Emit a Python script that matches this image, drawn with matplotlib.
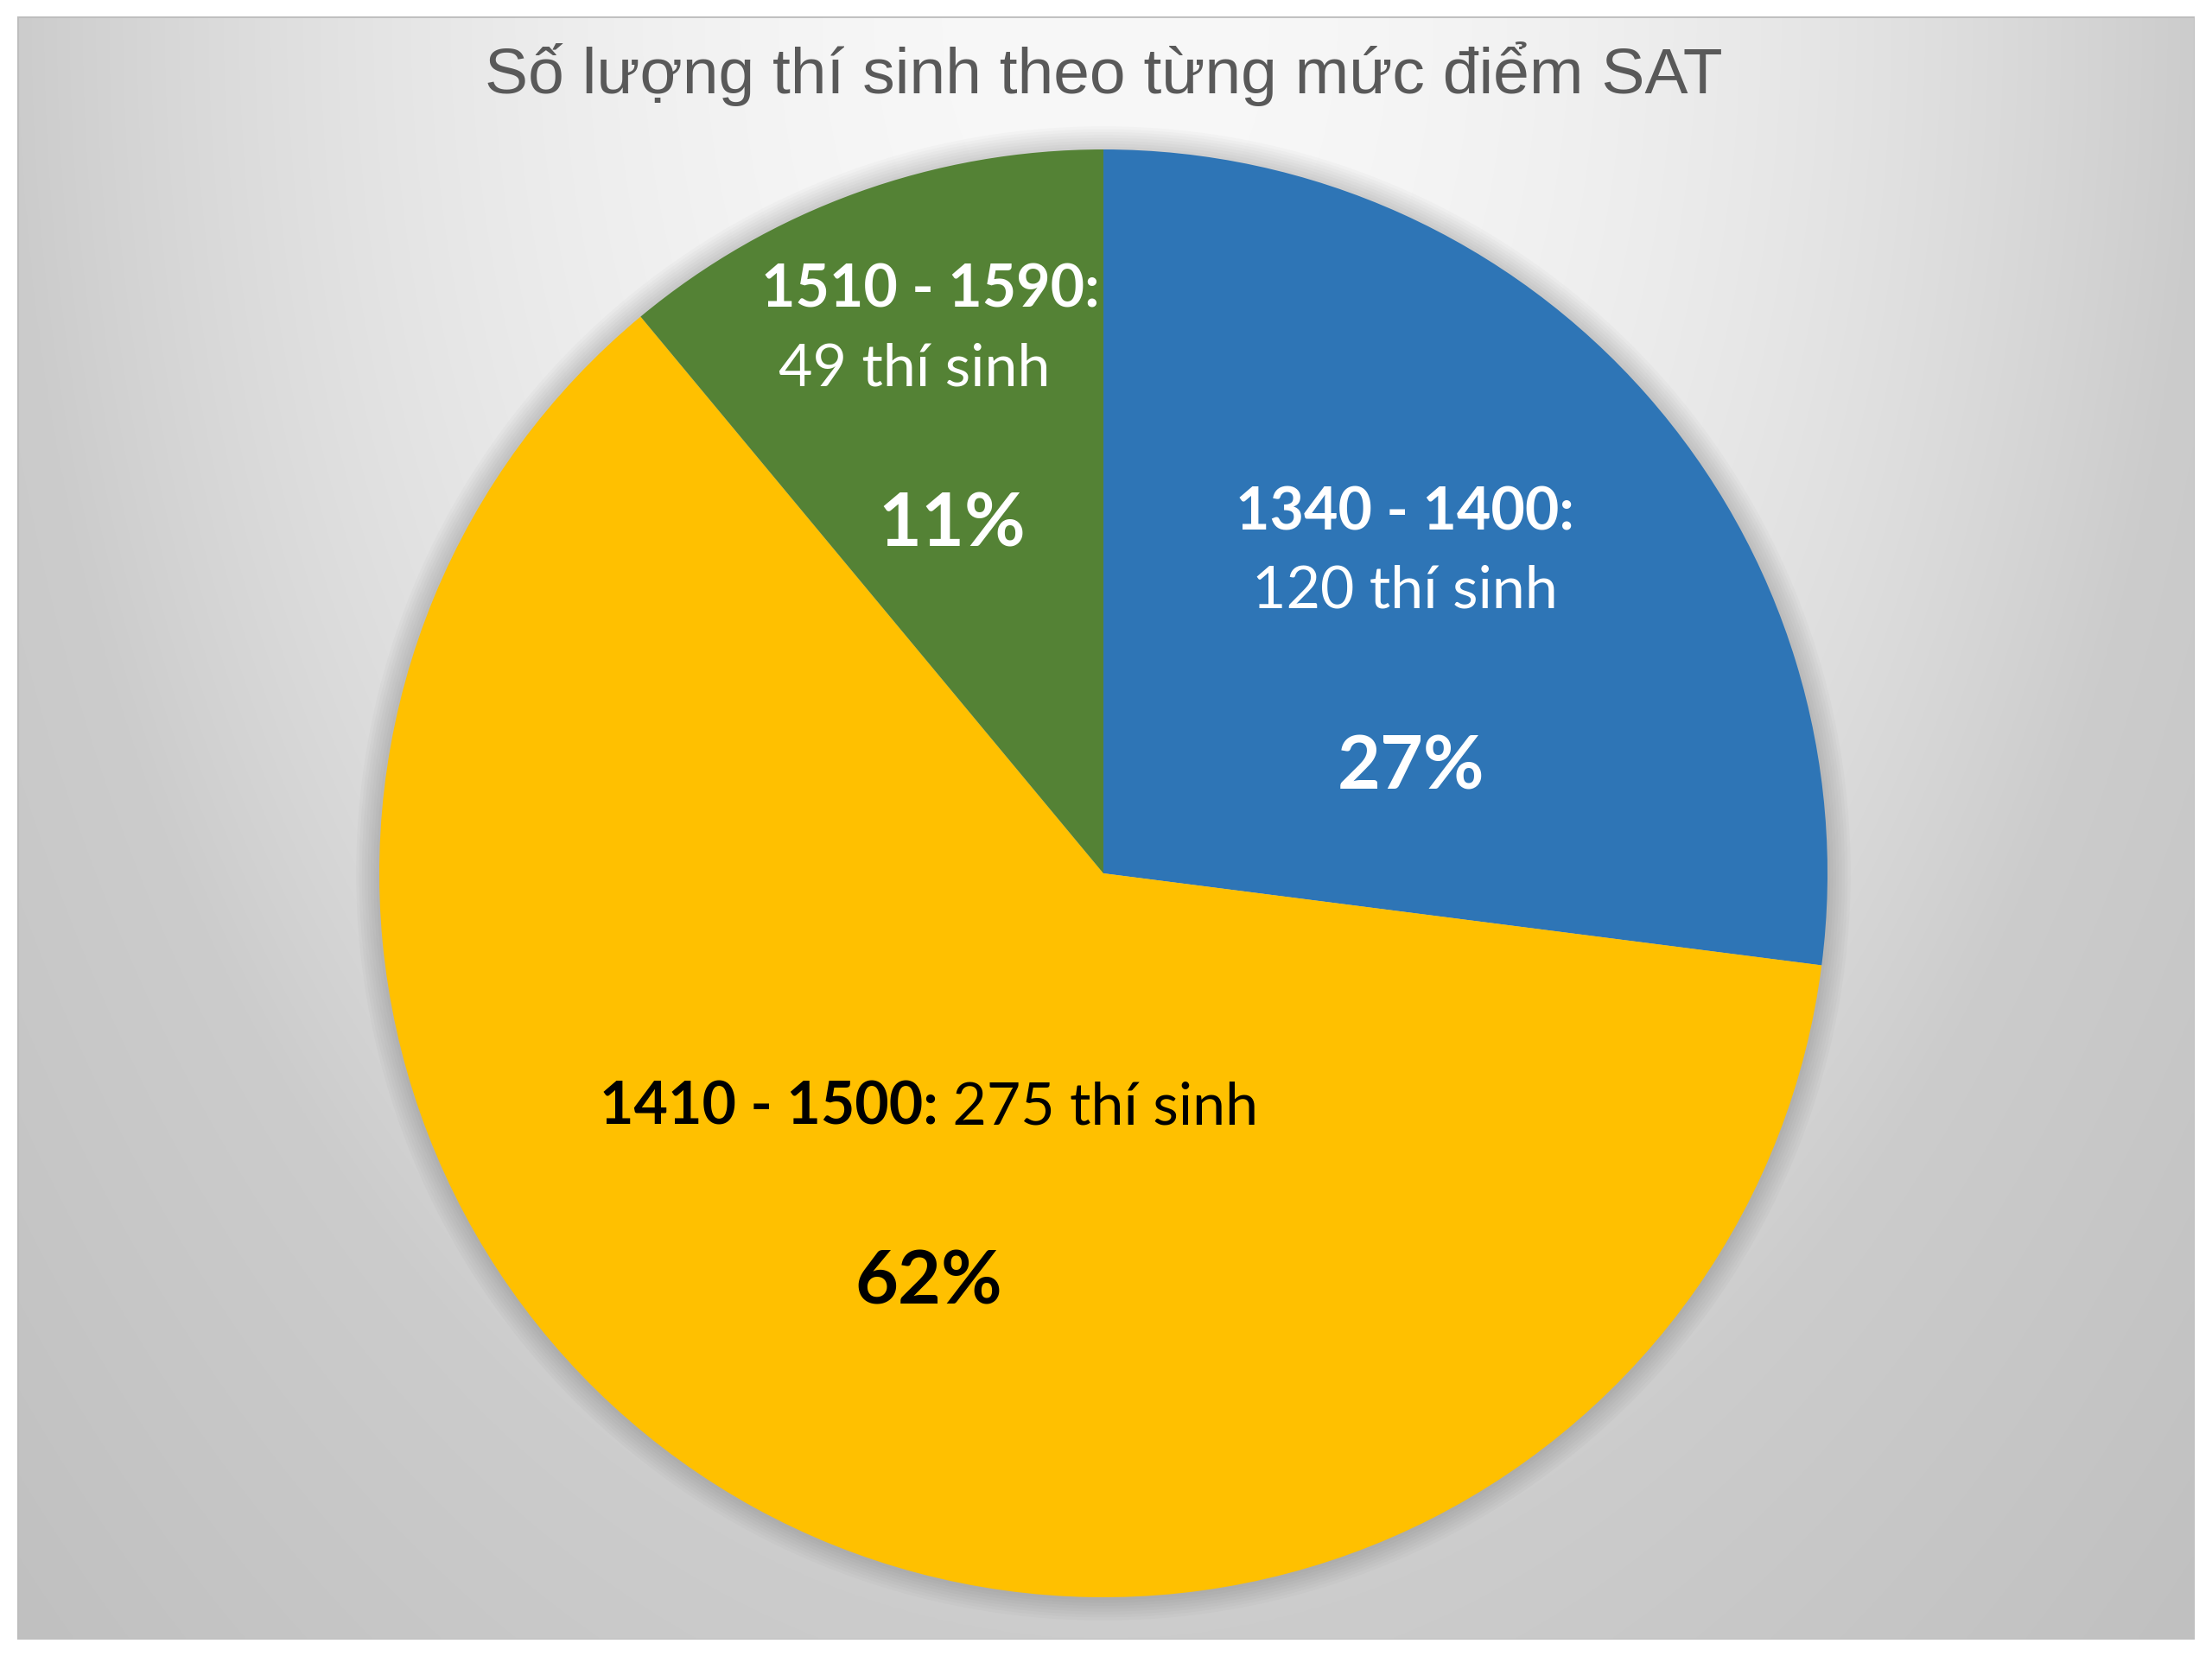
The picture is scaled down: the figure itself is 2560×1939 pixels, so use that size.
import numpy as np
import matplotlib
matplotlib.use("Agg")
import matplotlib.pyplot as plt
from matplotlib.patches import Rectangle, Circle

# ---- data ----
title = "Số lượng thí sinh theo từng mức điểm SAT"
ranges = ["1340 - 1400:", "1410 - 1500:", "1510 - 1590:"]
counts = [120, 275, 49]
count_labels = ["120 thí sinh", "275 thí sinh", "49 thí sinh"]
colors = ["#2E75B6", "#FFC000", "#548235"]
text_colors = ["white", "black", "white"]

W, H = 2560, 1940
fig = plt.figure(figsize=(W / 100, H / 100), dpi=100)
fig.patch.set_facecolor("white")

# ---- background chart area with radial gradient ----
L, T, R, B = 20, 20, 2540, 1899
ax_bg = fig.add_axes([L / W, 1 - B / H, (R - L) / W, (B - T) / H])
ny, nx = 400, 540
yy, xx = np.mgrid[0:ny, 0:nx]
dx = (xx / (nx - 1) - 0.5) / 0.5
dy = yy / (ny - 1)
r = np.sqrt(dx ** 2 + dy ** 2)
v = np.where(r <= 1, 248 - 44 * r ** 2, 204 - 29 * (r - 1)) / 255.0
img = np.dstack([v, v, v])
ax_bg.imshow(img, extent=[0, 1, 0, 1], origin="upper", aspect="auto", interpolation="bilinear")
ax_bg.set_xlim(0, 1)
ax_bg.set_ylim(0, 1)
ax_bg.axis("off")
ax_bg.add_patch(Rectangle((0, 0), 1, 1, fill=False, edgecolor="#bdbdbd", lw=2, transform=ax_bg.transAxes))

# ---- title ----
fig.text(1277 / W, 1 - 108 / H, title, ha="center", va="baseline",
         fontsize=54, color="#595959", family=["Liberation Sans", "DejaVu Sans"])

# ---- pie ----
cx, cy, rad = 1277, 1012, 838
ax = fig.add_axes([(cx - rad) / W, 1 - (cy + rad) / H, 2 * rad / W, 2 * rad / H])
ax.set_clip_on(False)
# soft shadow behind the pie
for k in range(8):
    ax.add_patch(Circle((0, 0), 1.0 + 0.004 * (k + 1), facecolor="black", edgecolor="none",
                        alpha=0.018, zorder=0, clip_on=False))
wedges, _ = ax.pie(counts, colors=colors, startangle=90, counterclock=False, radius=1,
                   wedgeprops=dict(linewidth=0, zorder=2))
ax.set_xlim(-1, 1)
ax.set_ylim(-1, 1)
ax.set_aspect("equal")
ax.axis("off")

total = sum(counts)
pcts = [f"{round(c / total * 100):d}%" for c in counts]

lab_font = ["Lato", "DejaVu Sans"]
fs_lab = 49
fs_pct = 62

# blue
ax.text(0.416, 0.475, ranges[0], ha="center", va="baseline", fontsize=fs_lab,
        fontweight="bold", color=text_colors[0], family=lab_font, zorder=5)
ax.text(0.416, 0.368, count_labels[0], ha="center", va="baseline", fontsize=fs_lab,
        color=text_colors[0], family=lab_font, zorder=5)
ax.text(0.425, 0.118, pcts[0], ha="center", va="baseline", fontsize=fs_pct,
        fontweight="bold", color=text_colors[0], family=lab_font, zorder=5)

# green
ax.text(-0.239, 0.783, ranges[2], ha="center", va="baseline", fontsize=fs_lab,
        fontweight="bold", color=text_colors[2], family=lab_font, zorder=5)
ax.text(-0.261, 0.675, count_labels[2], ha="center", va="baseline", fontsize=fs_lab,
        color=text_colors[2], family=lab_font, zorder=5)
ax.text(-0.209, 0.453, pcts[2], ha="center", va="baseline", fontsize=fs_pct,
        fontweight="bold", color=text_colors[2], family=lab_font, zorder=5)

# yellow: bold + regular on one line, centred together
t1 = ax.text(0, -0.345, ranges[1], ha="left", va="baseline", fontsize=fs_lab,
             fontweight="bold", color=text_colors[1], family=lab_font, zorder=5)
t2 = ax.text(0, -0.345, " " + count_labels[1], ha="left", va="baseline", fontsize=fs_lab,
             color=text_colors[1], family=lab_font, zorder=5)
ax.text(-0.241, -0.594, pcts[1], ha="center", va="baseline", fontsize=fs_pct,
        fontweight="bold", color=text_colors[1], family=lab_font, zorder=5)

fig.canvas.draw()
rend = fig.canvas.get_renderer()
w1 = t1.get_window_extent(rend).width
w2 = t2.get_window_extent(rend).width
px_per_unit = ax.transData.transform((1, 0))[0] - ax.transData.transform((0, 0))[0]
centre_x = -0.241
start = centre_x - (w1 + w2) / 2 / px_per_unit
t1.set_x(start)
t2.set_x(start + w1 / px_per_unit)

fig.savefig("out.png", dpi=100, facecolor=fig.get_facecolor())
